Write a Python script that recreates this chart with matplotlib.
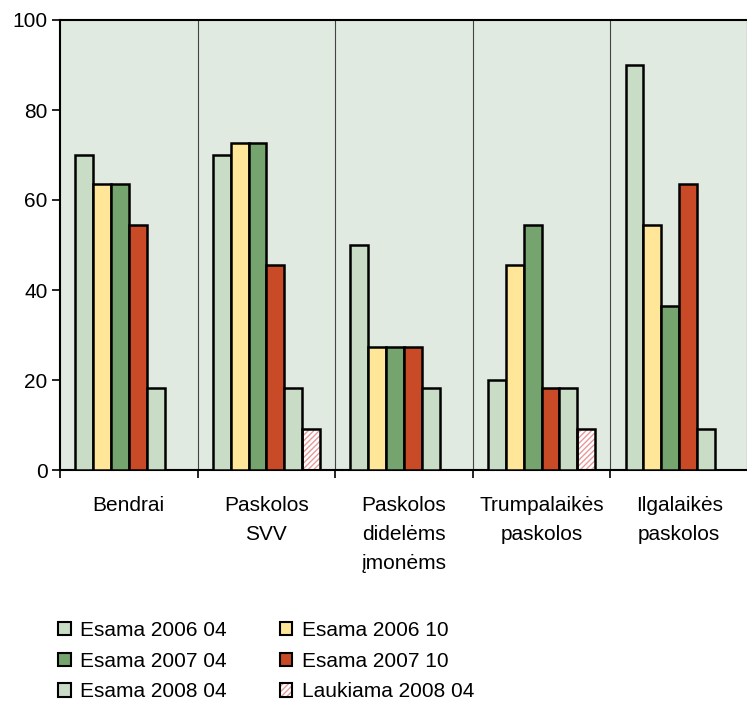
import matplotlib.pyplot as plt
import matplotlib.patches as mpatches
import numpy as np

plt.rcParams['font.family'] = ['Liberation Sans', 'DejaVu Sans']

categories = ["Bendrai", "Paskolos\nSVV", "Paskolos\ndidelėms\nįmonėms",
              "Trumpalaikės\npaskolos", "Ilgalaikės\npaskolos"]
series_names = ["Esama 2006 04", "Esama 2006 10", "Esama 2007 04",
                "Esama 2007 10", "Esama 2008 04", "Laukiama 2008 04"]
esama_2006_04 = [70, 70, 50, 20, 90]
esama_2006_10 = [63.6, 72.7, 27.3, 45.5, 54.5]
esama_2007_04 = [63.6, 72.7, 27.3, 54.5, 36.4]
esama_2007_10 = [54.5, 45.5, 27.3, 18.2, 63.6]
esama_2008_04 = [18.2, 18.2, 18.2, 18.2, 9.1]
laukiama_2008_04 = [0, 9.1, 0, 9.1, 0]

colors = ["#C9DCC6", "#FFE699", "#76A46F", "#C84A27", "#C9DCC6", "#FFFFFF"]
values = [esama_2006_04, esama_2006_10, esama_2007_04,
          esama_2007_10, esama_2008_04, laukiama_2008_04]

FS = 15

fig = plt.figure(figsize=(7.47, 7.01), dpi=100)
ax = fig.add_axes([60 / 747, 231 / 701, 688 / 747, 450 / 701])
ax.set_facecolor("#E0EAE0")

x = np.arange(len(categories))
w = 0.13
for i, (vals, col) in enumerate(zip(values, colors)):
    pos = x - 3 * w + (i + 0.5) * w
    if i == 5:
        # hatched pink fill under a plain black outline
        ax.bar(pos, vals, w, color="white", edgecolor="#E69A9A",
               hatch="//////", linewidth=0, zorder=2)
        ax.bar(pos, vals, w, fill=False, edgecolor="black",
               linewidth=1.8, zorder=3)
    else:
        ax.bar(pos, vals, w, color=col, edgecolor="black",
               linewidth=1.8, zorder=3)

# separators between groups
for b in np.arange(0.5, len(categories) - 0.5, 1):
    ax.axvline(b, color="#444444", linewidth=0.8, zorder=1)

ax.set_xlim(-0.5, len(categories) - 0.5)
ax.set_ylim(0, 100)
ax.set_yticks(range(0, 101, 20))
ax.set_xticks(x)
ax.set_xticklabels(categories, linespacing=1.65, va="top")
ax.set_xticks(np.arange(-0.5, len(categories), 1), minor=True)
ax.tick_params(axis="x", which="major", length=0, pad=19, labelsize=FS)
ax.tick_params(axis="x", which="minor", length=6, width=1.2)
ax.tick_params(axis="y", length=6, width=1.2, labelsize=FS, pad=3)
for s in ax.spines.values():
    s.set_linewidth(1.5)

handles = []
order = [0, 2, 4, 1, 3, 5]
for i in order:
    if i == 5:
        h = mpatches.Patch(facecolor="white", edgecolor="#E69A9A", hatch="//////",
                           linewidth=0)
        h2 = mpatches.Patch(fill=False, edgecolor="black", linewidth=1.5)
        handles.append((h, h2))
    else:
        handles.append(mpatches.Patch(facecolor=colors[i], edgecolor="black",
                                      linewidth=1.5))
labels = [series_names[i] for i in order]
fig.legend(handles, labels, ncol=2, loc="upper left",
           bbox_to_anchor=(58 / 747, 1 - 621 / 701), frameon=False,
           borderpad=0, borderaxespad=0,
           fontsize=FS, handlelength=0.6, handleheight=0.6, handletextpad=0.45,
           columnspacing=2.55, labelspacing=0.56)

fig.savefig("out.png", dpi=100)
